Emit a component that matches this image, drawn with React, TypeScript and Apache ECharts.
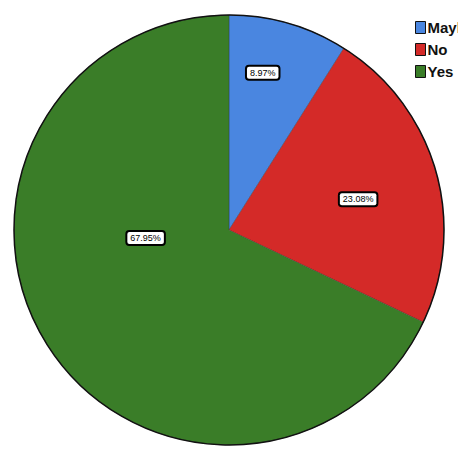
import React, { useEffect, useRef } from "react";
import * as echarts from "echarts";

const categories = ["Maybe", "No", "Yes"];
const percents = [8.97, 23.08, 67.95];
const colors = ["#4a86e0", "#d42a28", "#3a7d28"];
const labelOffsets: [number, number][] = [
  [3, -51],
  [23, 0],
  [10, -51],
];

const CX = 229;
const CY = 230;
const R = 215;

export default function App() {
  const ref = useRef<HTMLDivElement>(null);
  useEffect(() => {
    document.body.style.margin = "0";
    const chart = echarts.init(ref.current!, null, { renderer: "svg" });
    chart.setOption({
      animation: false,
      backgroundColor: "#ffffff",
      legend: {
        orient: "vertical",
        left: 410,
        top: 15,
        itemWidth: 10,
        itemHeight: 12,
        itemGap: 7,
        icon: "rect",
        textStyle: {
          fontFamily: "Liberation Sans",
          fontSize: 15,
          fontWeight: "bold",
          color: "#111",
          padding: [0, 0, 0, -3],
        },
        itemStyle: { borderColor: "#111", borderWidth: 1 },
        data: categories,
      },
      graphic: [
        {
          type: "circle",
          shape: { cx: CX, cy: CY, r: R },
          style: { fill: "none", stroke: "#111", lineWidth: 1.5 },
          silent: true,
          z: 10,
        },
      ],
      series: [
        {
          type: "pie",
          center: [CX, CY],
          radius: R,
          startAngle: 90,
          clockwise: true,
          avoidLabelOverlap: false,
          itemStyle: { borderColor: "rgba(40,40,40,0.5)", borderWidth: 0.6 },
          label: {
            show: true,
            position: "inside",
            formatter: (p: any) => percents[p.dataIndex].toFixed(2) + "%",
            fontFamily: "Liberation Sans",
            fontSize: 9,
            color: "#000",
            backgroundColor: "#ffffff",
            borderColor: "#000",
            borderWidth: 2,
            borderRadius: 2,
            padding: [2, 3, 1, 3],
          },
          labelLine: { show: false },
          emphasis: { disabled: true },
          data: categories.map((name, i) => ({
            name,
            value: percents[i],
            itemStyle: { color: colors[i] },
            label: { offset: labelOffsets[i] },
          })),
        },
      ],
    });
    return () => chart.dispose();
  }, []);
  return <div ref={ref} style={{ width: 458, height: 455 }} />;
}
